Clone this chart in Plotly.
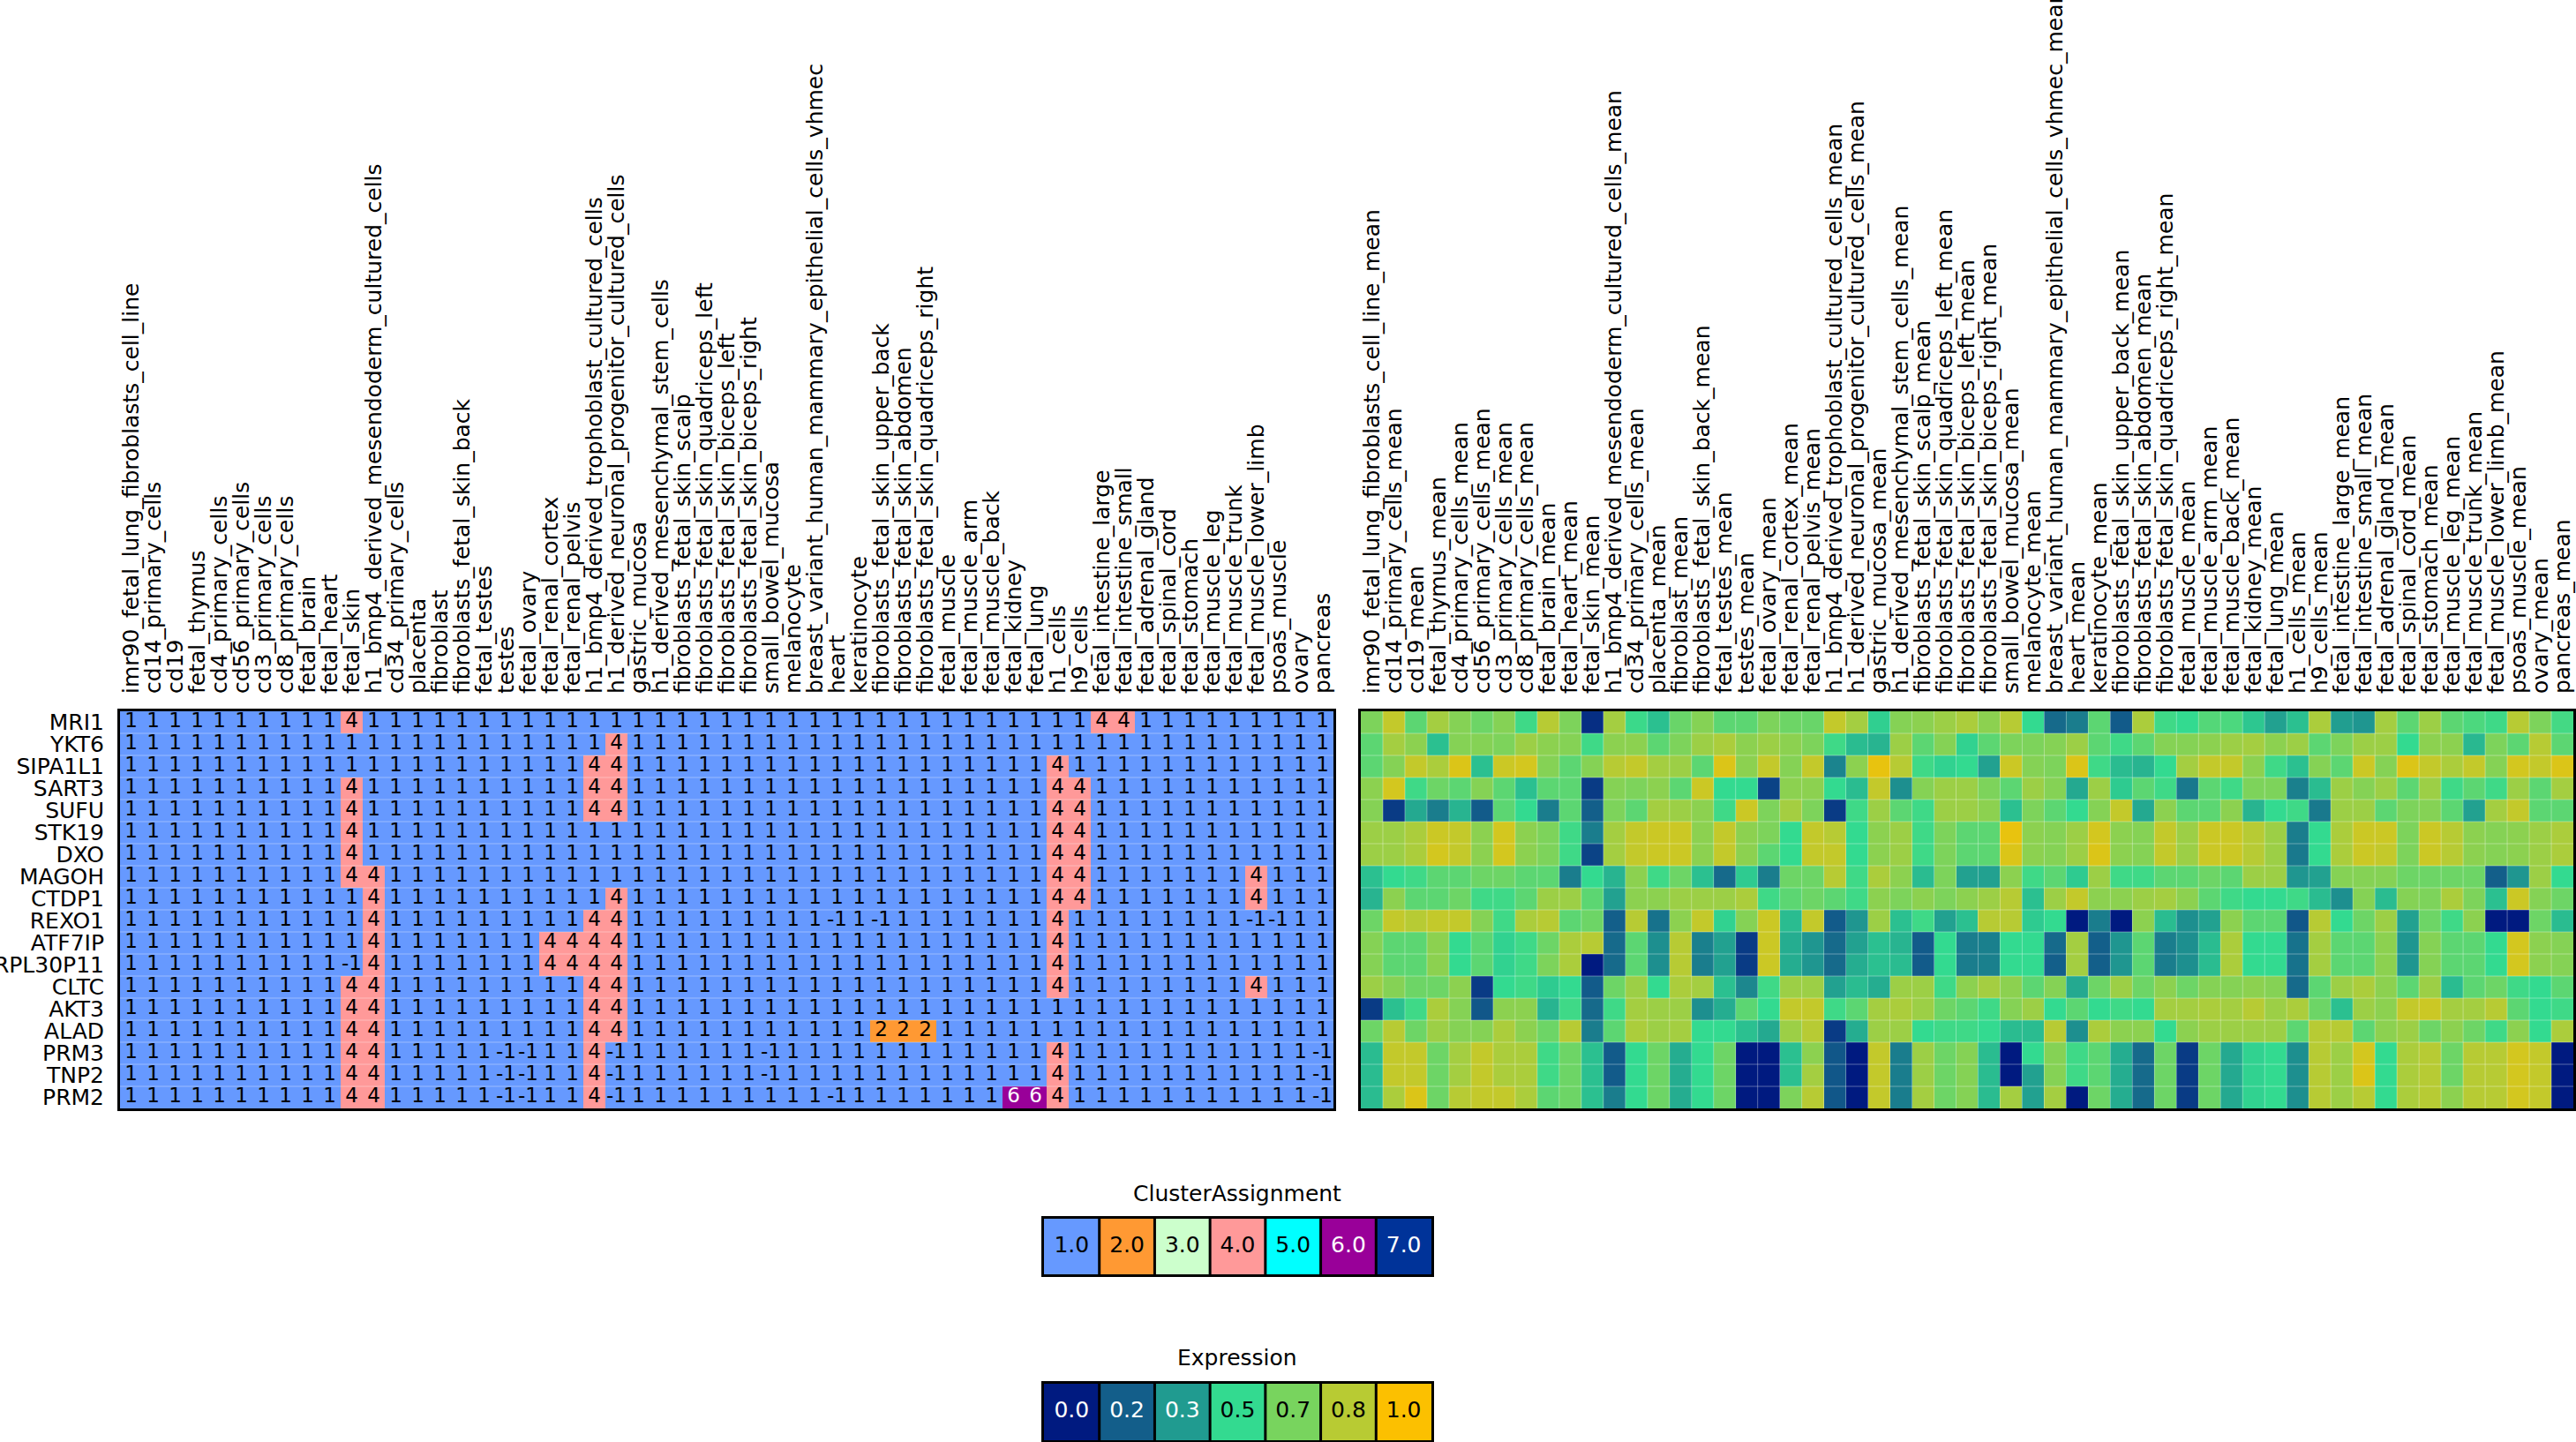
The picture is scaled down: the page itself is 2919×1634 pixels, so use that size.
import plotly.graph_objects as go

W, H = 2919, 1634
FONT = "DejaVu Sans"

genes = ["MRI1", "YKT6", "SIPA1L1", "SART3", "SUFU", "STK19", "DXO", "MAGOH", "CTDP1",
         "REXO1", "ATF7IP", "RPL30P11", "CLTC", "AKT3", "ALAD", "PRM3", "TNP2", "PRM2"]

tissues = [
    "imr90_fetal_lung_fibroblasts_cell_line", "cd14_primary_cells", "cd19", "fetal_thymus",
    "cd4_primary_cells", "cd56_primary_cells", "cd3_primary_cells", "cd8_primary_cells",
    "fetal_brain", "fetal_heart", "fetal_skin", "h1_bmp4_derived_mesendoderm_cultured_cells",
    "cd34_primary_cells", "placenta", "fibroblast", "fibroblasts_fetal_skin_back",
    "fetal_testes", "testes", "fetal_ovary", "fetal_renal_cortex", "fetal_renal_pelvis",
    "h1_bmp4_derived_trophoblast_cultured_cells", "h1_derived_neuronal_progenitor_cultured_cells",
    "gastric_mucosa", "h1_derived_mesenchymal_stem_cells", "fibroblasts_fetal_skin_scalp",
    "fibroblasts_fetal_skin_quadriceps_left", "fibroblasts_fetal_skin_biceps_left",
    "fibroblasts_fetal_skin_biceps_right", "small_bowel_mucosa", "melanocyte",
    "breast_variant_human_mammary_epithelial_cells_vhmec", "heart", "keratinocyte",
    "fibroblasts_fetal_skin_upper_back", "fibroblasts_fetal_skin_abdomen",
    "fibroblasts_fetal_skin_quadriceps_right", "fetal_muscle", "fetal_muscle_arm",
    "fetal_muscle_back", "fetal_kidney", "fetal_lung", "h1_cells", "h9_cells",
    "fetal_intestine_large", "fetal_intestine_small", "fetal_adrenal_gland",
    "fetal_spinal_cord", "fetal_stomach", "fetal_muscle_leg", "fetal_muscle_trunk",
    "fetal_muscle_lower_limb", "psoas_muscle", "ovary", "pancreas"]

mean_labels = [t + "_mean" for t in tissues]

# cluster assignment per gene (rows) x tissue (columns)
cluster = [
    [1,1,1,1,1,1,1,1,1,1, 4,1,1,1,1,1,1,1,1,1, 1,1,1,1,1,1,1,1,1,1, 1,1,1,1,1,1,1,1,1,1, 1,1,1,1,4,4,1,1,1,1, 1,1,1,1,1],
    [1,1,1,1,1,1,1,1,1,1, 1,1,1,1,1,1,1,1,1,1, 1,1,4,1,1,1,1,1,1,1, 1,1,1,1,1,1,1,1,1,1, 1,1,1,1,1,1,1,1,1,1, 1,1,1,1,1],
    [1,1,1,1,1,1,1,1,1,1, 1,1,1,1,1,1,1,1,1,1, 1,4,4,1,1,1,1,1,1,1, 1,1,1,1,1,1,1,1,1,1, 1,1,4,1,1,1,1,1,1,1, 1,1,1,1,1],
    [1,1,1,1,1,1,1,1,1,1, 4,1,1,1,1,1,1,1,1,1, 1,4,4,1,1,1,1,1,1,1, 1,1,1,1,1,1,1,1,1,1, 1,1,4,4,1,1,1,1,1,1, 1,1,1,1,1],
    [1,1,1,1,1,1,1,1,1,1, 4,1,1,1,1,1,1,1,1,1, 1,4,4,1,1,1,1,1,1,1, 1,1,1,1,1,1,1,1,1,1, 1,1,4,4,1,1,1,1,1,1, 1,1,1,1,1],
    [1,1,1,1,1,1,1,1,1,1, 4,1,1,1,1,1,1,1,1,1, 1,1,1,1,1,1,1,1,1,1, 1,1,1,1,1,1,1,1,1,1, 1,1,4,4,1,1,1,1,1,1, 1,1,1,1,1],
    [1,1,1,1,1,1,1,1,1,1, 4,1,1,1,1,1,1,1,1,1, 1,1,1,1,1,1,1,1,1,1, 1,1,1,1,1,1,1,1,1,1, 1,1,4,4,1,1,1,1,1,1, 1,1,1,1,1],
    [1,1,1,1,1,1,1,1,1,1, 4,4,1,1,1,1,1,1,1,1, 1,1,1,1,1,1,1,1,1,1, 1,1,1,1,1,1,1,1,1,1, 1,1,4,4,1,1,1,1,1,1, 1,4,1,1,1],
    [1,1,1,1,1,1,1,1,1,1, 1,4,1,1,1,1,1,1,1,1, 1,1,4,1,1,1,1,1,1,1, 1,1,1,1,1,1,1,1,1,1, 1,1,4,4,1,1,1,1,1,1, 1,4,1,1,1],
    [1,1,1,1,1,1,1,1,1,1, 1,4,1,1,1,1,1,1,1,1, 1,4,4,1,1,1,1,1,1,1, 1,1,-1,1,-1,1,1,1,1,1, 1,1,4,1,1,1,1,1,1,1, 1,-1,-1,1,1],
    [1,1,1,1,1,1,1,1,1,1, 1,4,1,1,1,1,1,1,1,4, 4,4,4,1,1,1,1,1,1,1, 1,1,1,1,1,1,1,1,1,1, 1,1,4,1,1,1,1,1,1,1, 1,1,1,1,1],
    [1,1,1,1,1,1,1,1,1,1, -1,4,1,1,1,1,1,1,1,4, 4,4,4,1,1,1,1,1,1,1, 1,1,1,1,1,1,1,1,1,1, 1,1,4,1,1,1,1,1,1,1, 1,1,1,1,1],
    [1,1,1,1,1,1,1,1,1,1, 4,4,1,1,1,1,1,1,1,1, 1,4,4,1,1,1,1,1,1,1, 1,1,1,1,1,1,1,1,1,1, 1,1,4,1,1,1,1,1,1,1, 1,4,1,1,1],
    [1,1,1,1,1,1,1,1,1,1, 4,4,1,1,1,1,1,1,1,1, 1,4,4,1,1,1,1,1,1,1, 1,1,1,1,1,1,1,1,1,1, 1,1,1,1,1,1,1,1,1,1, 1,1,1,1,1],
    [1,1,1,1,1,1,1,1,1,1, 4,4,1,1,1,1,1,1,1,1, 1,4,4,1,1,1,1,1,1,1, 1,1,1,1,2,2,2,1,1,1, 1,1,1,1,1,1,1,1,1,1, 1,1,1,1,1],
    [1,1,1,1,1,1,1,1,1,1, 4,4,1,1,1,1,1,-1,-1,1, 1,4,-1,1,1,1,1,1,1,-1, 1,1,1,1,1,1,1,1,1,1, 1,1,4,1,1,1,1,1,1,1, 1,1,1,1,-1],
    [1,1,1,1,1,1,1,1,1,1, 4,4,1,1,1,1,1,-1,-1,1, 1,4,-1,1,1,1,1,1,1,-1, 1,1,1,1,1,1,1,1,1,1, 1,1,4,1,1,1,1,1,1,1, 1,1,1,1,-1],
    [1,1,1,1,1,1,1,1,1,1, 4,4,1,1,1,1,1,-1,-1,1, 1,4,-1,1,1,1,1,1,1,1, 1,1,-1,1,1,1,1,1,1,1, 6,6,4,1,1,1,1,1,1,1, 1,1,1,1,-1],
]

# mean expression per gene (rows) x tissue (columns)
expression = [
    [0.68,0.86,0.60,0.78,0.70,0.64,0.70,0.53,0.83,0.68, 0.05,0.78,0.52,0.43,0.63,0.70,0.60,0.60,0.68,0.64, 0.63,0.86,0.78,0.47,0.70,0.72,0.76,0.80,0.72,0.83, 0.50,0.20,0.25,0.60,0.16,0.80,0.53,0.50,0.58,0.56, 0.45,0.35,0.43,0.80,0.34,0.32,0.78,0.60,0.76,0.60, 0.56,0.53,0.83,0.68,0.54],
    [0.60,0.78,0.72,0.43,0.70,0.70,0.68,0.76,0.72,0.70, 0.53,0.72,0.72,0.60,0.68,0.76,0.80,0.72,0.76,0.72, 0.68,0.53,0.42,0.40,0.76,0.60,0.70,0.48,0.60,0.68, 0.68,0.70,0.76,0.60,0.53,0.60,0.70,0.70,0.72,0.76, 0.78,0.72,0.76,0.60,0.68,0.76,0.76,0.50,0.72,0.72, 0.41,0.68,0.60,0.83,0.60],
    [0.60,0.70,0.86,0.80,0.92,0.43,0.88,0.90,0.70,0.60, 0.70,0.83,0.86,0.78,0.76,0.60,0.92,0.72,0.86,0.70, 0.86,0.27,0.72,0.95,0.83,0.53,0.48,0.50,0.35,0.88, 0.70,0.68,0.92,0.53,0.42,0.40,0.50,0.78,0.86,0.86, 0.72,0.53,0.43,0.70,0.60,0.88,0.70,0.92,0.86,0.80, 0.86,0.70,0.90,0.86,0.92],
    [0.72,0.90,0.53,0.64,0.60,0.70,0.60,0.43,0.60,0.60, 0.08,0.70,0.68,0.72,0.60,0.88,0.50,0.50,0.10,0.72, 0.72,0.50,0.42,0.86,0.30,0.70,0.76,0.76,0.68,0.60, 0.76,0.70,0.37,0.76,0.46,0.60,0.53,0.24,0.60,0.53, 0.68,0.68,0.26,0.42,0.76,0.70,0.76,0.60,0.76,0.53, 0.60,0.53,0.76,0.60,0.78],
    [0.70,0.08,0.37,0.25,0.40,0.16,0.60,0.50,0.25,0.60, 0.17,0.68,0.60,0.78,0.76,0.72,0.53,0.88,0.68,0.78, 0.68,0.08,0.53,0.76,0.60,0.53,0.76,0.76,0.72,0.43, 0.68,0.60,0.50,0.70,0.86,0.37,0.72,0.60,0.60,0.72, 0.40,0.50,0.53,0.24,0.76,0.76,0.60,0.68,0.70,0.60, 0.35,0.78,0.86,0.60,0.60],
    [0.76,0.76,0.80,0.88,0.86,0.72,0.90,0.72,0.68,0.53, 0.25,0.78,0.86,0.88,0.88,0.72,0.86,0.72,0.68,0.50, 0.86,0.83,0.50,0.72,0.76,0.53,0.68,0.60,0.60,0.95, 0.72,0.70,0.76,0.90,0.72,0.70,0.86,0.76,0.88,0.88, 0.83,0.76,0.25,0.50,0.80,0.88,0.88,0.68,0.88,0.83, 0.72,0.70,0.72,0.76,0.80],
    [0.76,0.76,0.80,0.90,0.86,0.72,0.90,0.72,0.68,0.53, 0.10,0.78,0.86,0.88,0.88,0.72,0.86,0.72,0.60,0.50, 0.86,0.86,0.50,0.72,0.76,0.53,0.68,0.60,0.60,0.92, 0.72,0.70,0.76,0.92,0.72,0.70,0.86,0.76,0.88,0.88, 0.83,0.76,0.24,0.50,0.80,0.88,0.86,0.68,0.88,0.83, 0.72,0.70,0.72,0.76,0.80],
    [0.43,0.50,0.53,0.60,0.60,0.64,0.64,0.60,0.60,0.25, 0.50,0.40,0.72,0.53,0.64,0.43,0.20,0.46,0.25,0.64, 0.64,0.83,0.53,0.80,0.72,0.42,0.68,0.35,0.35,0.72, 0.53,0.60,0.46,0.76,0.53,0.53,0.60,0.60,0.64,0.60, 0.76,0.76,0.32,0.35,0.70,0.70,0.70,0.64,0.64,0.64, 0.64,0.17,0.32,0.76,0.50],
    [0.40,0.72,0.60,0.60,0.64,0.53,0.53,0.60,0.76,0.76, 0.60,0.35,0.72,0.72,0.76,0.76,0.76,0.80,0.53,0.60, 0.64,0.60,0.53,0.72,0.68,0.72,0.68,0.72,0.76,0.83, 0.43,0.76,0.86,0.72,0.72,0.76,0.78,0.72,0.60,0.53, 0.50,0.50,0.53,0.42,0.30,0.70,0.42,0.70,0.68,0.80, 0.68,0.43,0.88,0.70,0.64],
    [0.64,0.86,0.83,0.86,0.86,0.70,0.53,0.80,0.83,0.60, 0.64,0.17,0.83,0.22,0.72,0.86,0.48,0.70,0.88,0.42, 0.86,0.16,0.32,0.76,0.43,0.53,0.35,0.43,0.83,0.83, 0.46,0.50,0.00,0.25,0.00,0.72,0.42,0.30,0.35,0.72, 0.60,0.60,0.15,0.83,0.50,0.64,0.76,0.35,0.64,0.53, 0.72,0.00,0.00,0.64,0.42],
    [0.70,0.60,0.60,0.72,0.50,0.60,0.48,0.53,0.64,0.80, 0.83,0.20,0.60,0.30,0.83,0.26,0.35,0.08,0.88,0.38, 0.32,0.20,0.35,0.43,0.40,0.16,0.50,0.25,0.26,0.50, 0.50,0.20,0.78,0.17,0.32,0.60,0.25,0.30,0.42,0.80, 0.50,0.50,0.22,0.78,0.60,0.60,0.72,0.32,0.70,0.60, 0.60,0.50,0.90,0.72,0.70],
    [0.70,0.60,0.60,0.72,0.50,0.60,0.48,0.53,0.68,0.80, 0.00,0.20,0.60,0.30,0.83,0.25,0.35,0.08,0.88,0.38, 0.32,0.20,0.38,0.43,0.42,0.16,0.50,0.25,0.26,0.50, 0.50,0.17,0.78,0.17,0.32,0.60,0.25,0.30,0.42,0.80, 0.50,0.50,0.22,0.78,0.60,0.60,0.72,0.32,0.70,0.60, 0.60,0.50,0.90,0.72,0.70],
    [0.76,0.70,0.64,0.64,0.72,0.08,0.50,0.53,0.46,0.50, 0.16,0.64,0.76,0.50,0.80,0.78,0.43,0.28,0.53,0.76, 0.76,0.35,0.42,0.38,0.76,0.76,0.53,0.72,0.78,0.72, 0.60,0.70,0.37,0.64,0.76,0.64,0.72,0.64,0.70,0.70, 0.72,0.70,0.20,0.60,0.76,0.80,0.72,0.60,0.76,0.42, 0.60,0.64,0.53,0.50,0.60],
    [0.08,0.43,0.53,0.80,0.70,0.15,0.72,0.72,0.40,0.53, 0.20,0.53,0.78,0.76,0.76,0.30,0.38,0.60,0.50,0.86, 0.86,0.53,0.60,0.78,0.80,0.76,0.64,0.60,0.53,0.70, 0.76,0.50,0.60,0.50,0.53,0.50,0.78,0.78,0.80,0.78, 0.83,0.76,0.80,0.64,0.43,0.76,0.72,0.86,0.88,0.78, 0.78,0.83,0.60,0.50,0.53],
    [0.64,0.83,0.64,0.76,0.70,0.70,0.80,0.72,0.64,0.83, 0.25,0.60,0.80,0.76,0.78,0.50,0.50,0.43,0.37,0.76, 0.83,0.08,0.38,0.76,0.76,0.50,0.53,0.53,0.50,0.42, 0.42,0.83,0.30,0.80,0.72,0.72,0.50,0.72,0.76,0.76, 0.76,0.76,0.60,0.83,0.83,0.60,0.72,0.76,0.64,0.72, 0.64,0.53,0.72,0.50,0.80],
    [0.42,0.86,0.86,0.64,0.78,0.86,0.80,0.80,0.53,0.64, 0.43,0.16,0.50,0.64,0.38,0.50,0.64,0.00,0.00,0.43, 0.72,0.15,0.00,0.86,0.25,0.76,0.64,0.70,0.42,0.00, 0.50,0.70,0.53,0.60,0.38,0.20,0.64,0.08,0.64,0.37, 0.48,0.50,0.30,0.83,0.76,0.90,0.50,0.80,0.83,0.64, 0.83,0.83,0.90,0.86,0.00],
    [0.42,0.86,0.86,0.64,0.78,0.86,0.80,0.80,0.53,0.64, 0.43,0.16,0.50,0.64,0.38,0.50,0.64,0.00,0.00,0.43, 0.78,0.15,0.00,0.86,0.25,0.76,0.64,0.70,0.42,0.00, 0.35,0.70,0.53,0.60,0.38,0.20,0.64,0.08,0.64,0.37, 0.48,0.50,0.30,0.83,0.76,0.92,0.50,0.80,0.83,0.64, 0.83,0.83,0.90,0.86,0.00],
    [0.42,0.80,0.92,0.64,0.83,0.86,0.86,0.80,0.60,0.64, 0.43,0.25,0.50,0.64,0.38,0.50,0.64,0.00,0.00,0.68, 0.83,0.15,0.00,0.86,0.25,0.78,0.64,0.70,0.42,0.78, 0.35,0.78,0.00,0.64,0.38,0.20,0.64,0.08,0.64,0.37, 0.48,0.50,0.30,0.83,0.76,0.83,0.50,0.80,0.83,0.72, 0.83,0.83,0.90,0.86,0.00],
]

cluster_levels = ["1.0", "2.0", "3.0", "4.0", "5.0", "6.0", "7.0"]
cluster_colors = ["#6699ff", "#ff9933", "#ccffcc", "#ff9999", "#00ffff", "#990099", "#003399"]
expr_levels = ["0.0", "0.2", "0.3", "0.5", "0.7", "0.8", "1.0"]
expr_colors = ["#001a80", "#135e8a", "#209b90", "#33da90", "#78d45e", "#b8cb33", "#fcc000"]

# ---------- helpers ----------
def fx(px):
    return px / W

def fy(py):
    return 1 - py / H

n_lv = len(cluster_colors)
cl_scale = []
for k, c in enumerate(cluster_colors):
    cl_scale.append([k / n_lv, c])
    cl_scale.append([(k + 1) / n_lv, c])
ex_scale = [[k / (len(expr_colors) - 1), c] for k, c in enumerate(expr_colors)]

cluster_idx = [[max(v, 1) - 1 for v in row] for row in cluster]

fig = go.Figure()

# left: cluster heatmap
fig.add_trace(go.Heatmap(
    z=cluster_idx, x=tissues, y=genes, colorscale=cl_scale, zmin=-0.5, zmax=n_lv - 0.5,
    showscale=False, xaxis="x", yaxis="y", hoverinfo="skip"))

tx, ty, tt, tc = [], [], [], []
for i, g in enumerate(genes):
    for j, t in enumerate(tissues):
        v = cluster[i][j]
        tx.append(t)
        ty.append(g)
        tt.append(str(v))
        tc.append("white" if v in (6, 7) else "black")
fig.add_trace(go.Scatter(
    x=tx, y=ty, text=tt, mode="text", textposition="middle center",
    textfont=dict(family=FONT, size=23, color=tc), xaxis="x", yaxis="y",
    hoverinfo="skip", showlegend=False))

# right: expression heatmap
fig.add_trace(go.Heatmap(
    z=expression, x=mean_labels, y=genes, colorscale=ex_scale, zmin=0, zmax=1,
    showscale=False, xaxis="x2", yaxis="y2", hoverinfo="skip"))

# legends
fig.add_trace(go.Heatmap(
    z=[list(range(n_lv))], x=cluster_levels, y=["c"], colorscale=cl_scale,
    zmin=-0.5, zmax=n_lv - 0.5, showscale=False, xaxis="x3", yaxis="y3", hoverinfo="skip"))
fig.add_trace(go.Scatter(
    x=cluster_levels, y=["c"] * n_lv, text=cluster_levels, mode="text",
    textfont=dict(family=FONT, size=25,
                  color=["black", "black", "black", "black", "black", "white", "white"]),
    xaxis="x3", yaxis="y3", hoverinfo="skip", showlegend=False))

expr_vals = [k / (len(expr_levels) - 1) for k in range(len(expr_levels))]
fig.add_trace(go.Heatmap(
    z=[expr_vals], x=expr_levels, y=["e"], colorscale=ex_scale, zmin=0, zmax=1,
    showscale=False, xaxis="x4", yaxis="y4", hoverinfo="skip"))
fig.add_trace(go.Scatter(
    x=expr_levels, y=["e"] * len(expr_levels), text=expr_levels, mode="text",
    textfont=dict(family=FONT, size=25,
                  color=["white", "white", "white", "black", "black", "black", "black"]),
    xaxis="x4", yaxis="y4", hoverinfo="skip", showlegend=False))

border = dict(showline=True, mirror=True, linecolor="black", linewidth=3,
              showgrid=False, zeroline=False, ticks="", automargin=False)

nr, nc = len(genes), len(tissues)
LX0, LX1, RX0, RX1 = 136, 1511, 1542, 2916
TY0, TY1 = 806, 1256

layout = dict(
    width=W, height=H, margin=dict(l=0, r=0, t=0, b=0, autoexpand=False),
    paper_bgcolor="white", plot_bgcolor="white", showlegend=False,
    font=dict(family=FONT, color="black"),
    xaxis=dict(domain=[fx(LX0), fx(LX1)], anchor="y", side="top", tickangle=-90,
               tickfont=dict(size=25), range=[-0.5, nc - 0.5],
               tickmode="array", tickvals=tissues, ticktext=tissues,
               categoryorder="array", categoryarray=tissues, ticklabelstandoff=12, **border),
    yaxis=dict(domain=[fy(TY1), fy(TY0)], anchor="x", tickfont=dict(size=25),
               range=[nr - 0.5, -0.5], tickmode="array", tickvals=genes, ticktext=genes,
               categoryorder="array", categoryarray=genes,
               ticklabelstandoff=10, **border),
    xaxis2=dict(domain=[fx(RX0), fx(RX1)], anchor="y2", side="top", tickangle=-90,
                tickfont=dict(size=25), range=[-0.5, nc - 0.5],
                tickmode="array", tickvals=mean_labels, ticktext=mean_labels,
                categoryorder="array", categoryarray=mean_labels, ticklabelstandoff=12, **border),
    yaxis2=dict(domain=[fy(TY1), fy(TY0)], anchor="x2", showticklabels=False,
                range=[nr - 0.5, -0.5], categoryorder="array", categoryarray=genes, **border),
    xaxis3=dict(domain=[fx(1183), fx(1622)], anchor="y3", showticklabels=False,
                range=[-0.5, n_lv - 0.5], **border),
    yaxis3=dict(domain=[fy(1444), fy(1381)], anchor="x3", showticklabels=False,
                range=[-0.5, 0.5], **border),
    xaxis4=dict(domain=[fx(1183), fx(1622)], anchor="y4", showticklabels=False,
                range=[-0.5, len(expr_levels) - 0.5], **border),
    yaxis4=dict(domain=[fy(1632), fy(1568)], anchor="x4", showticklabels=False,
                range=[-0.5, 0.5], **border),
)

shapes = []
sep = dict(color="rgba(255,255,255,0.35)", width=1)
for i in range(1, nr):
    shapes.append(dict(type="line", xref="x domain", yref="y", x0=0, x1=1,
                       y0=i - 0.5, y1=i - 0.5, line=sep, layer="above"))
    shapes.append(dict(type="line", xref="x2 domain", yref="y2", x0=0, x1=1,
                       y0=i - 0.5, y1=i - 0.5, line=sep, layer="above"))
for j in range(1, nc):
    shapes.append(dict(type="line", xref="x2", yref="y2 domain", x0=j - 0.5, x1=j - 0.5,
                       y0=0, y1=1, line=sep, layer="above"))
for k in range(1, n_lv):
    shapes.append(dict(type="line", xref="x3", yref="y3 domain", x0=k - 0.5, x1=k - 0.5,
                       y0=0, y1=1, line=dict(color="black", width=3)))
for k in range(1, len(expr_levels)):
    shapes.append(dict(type="line", xref="x4", yref="y4 domain", x0=k - 0.5, x1=k - 0.5,
                       y0=0, y1=1, line=dict(color="black", width=3)))
layout["shapes"] = shapes

layout["annotations"] = [
    dict(text="ClusterAssignment", x=fx(1402), y=fy(1352), xref="paper", yref="paper",
         showarrow=False, font=dict(size=25, family=FONT), xanchor="center", yanchor="middle"),
    dict(text="Expression", x=fx(1402), y=fy(1538), xref="paper", yref="paper",
         showarrow=False, font=dict(size=25, family=FONT), xanchor="center", yanchor="middle"),
]

fig.update_layout(**layout)
fig.write_html("out.html", config={"displayModeBar": False},
               post_script="document.body.style.margin='0';")
